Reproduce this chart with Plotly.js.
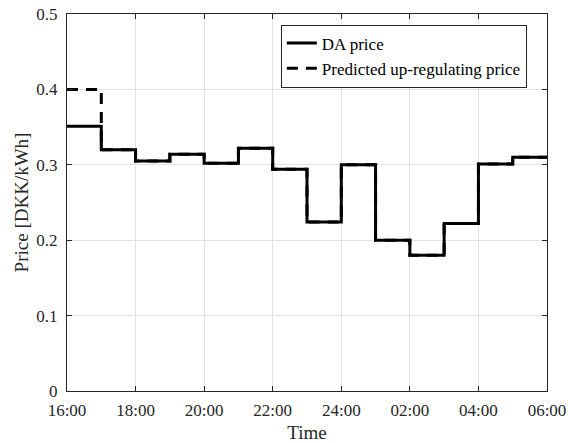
<!DOCTYPE html>
<html>
<head>
<meta charset="utf-8">
<script src="https://cdn.plot.ly/plotly-3.0.1.min.js"></script>
<style>html,body{margin:0;padding:0;background:#fff;}#chart{width:568px;height:443px;}</style>
</head>
<body>
<div id="chart"></div>
<script>
// Hours (16:00 .. 06:00 next day, as 16..30)
const hours = [16,17,18,19,20,21,22,23,24,25,26,27,28,29,30];
const daPrice = [0.351,0.320,0.305,0.314,0.302,0.322,0.294,0.224,0.300,0.200,0.180,0.222,0.301,0.310,0.310];
const predictedUpPrice = [0.400,0.320,0.305,0.314,0.302,0.322,0.294,0.224,0.300,0.200,0.180,0.222,0.301,0.310,0.310];
const tickHours = [16,18,20,22,24,26,28,30];
const tickLabels = ["16:00","18:00","20:00","22:00","24:00","02:00","04:00","06:00"];

const fontFam = "Liberation Serif, Times New Roman, serif";
const traces = [
  {x: hours, y: daPrice, type: "scatter", mode: "lines", name: "DA price",
   line: {shape: "hv", color: "#000", width: 3}},
  {x: hours, y: predictedUpPrice, type: "scatter", mode: "lines", name: "Predicted up-regulating price",
   line: {shape: "hv", color: "#000", width: 3, dash: "11px,8px"}}
];
const axisCommon = {
  showline: true, mirror: "ticks", linecolor: "#262626", linewidth: 1,
  ticks: "inside", ticklen: 5, tickcolor: "#262626",
  showgrid: true, gridcolor: "#e3e3e3", gridwidth: 1, zeroline: false,
  tickfont: {family: fontFam, size: 17, color: "#262626"}
};
const layout = {
  width: 568, height: 443,
  margin: {l: 67, r: 21, t: 14, b: 52},
  paper_bgcolor: "#fff", plot_bgcolor: "#fff",
  font: {family: fontFam, color: "#262626"},
  showlegend: true,
  legend: {x: 0.958, y: 0.972, xanchor: "right", yanchor: "top",
    bgcolor: "#fff", bordercolor: "#262626", borderwidth: 1,
    font: {family: fontFam, size: 17, color: "#000"}, tracegroupgap: 0},
  xaxis: Object.assign({}, axisCommon, {
    range: [16, 30], tickmode: "array", tickvals: tickHours, ticktext: tickLabels,
    ticklabelstandoff: 4,
    title: {text: "Time", font: {family: fontFam, size: 19, color: "#262626"}, standoff: 6}
  }),
  yaxis: Object.assign({}, axisCommon, {
    range: [0, 0.5], tickmode: "array", tickvals: [0,0.1,0.2,0.3,0.4,0.5],
    ticktext: ["0","0.1","0.2","0.3","0.4","0.5"],
    ticklabelstandoff: 5,
    title: {text: "Price [DKK/kWh]", font: {family: fontFam, size: 19, color: "#262626"}, standoff: 2}
  })
};
Plotly.newPlot("chart", traces, layout, {displayModeBar: false, staticPlot: true});
</script>
</body>
</html>
